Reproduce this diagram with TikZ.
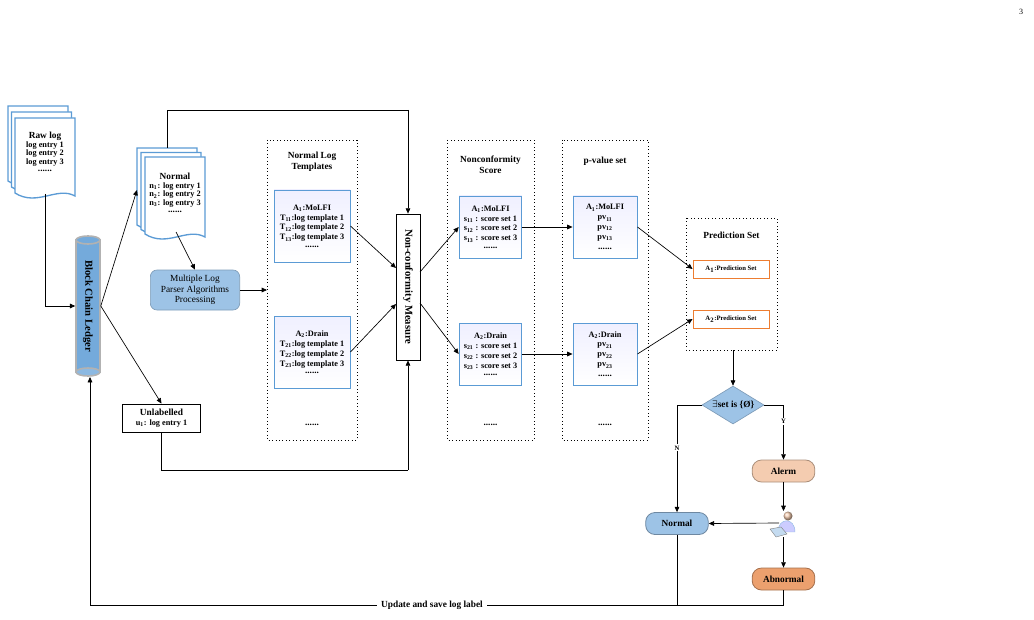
\documentclass[tikz,border=0pt]{standalone}
\usepackage{fontspec}
\setmainfont{Liberation Serif}
\usetikzlibrary{shapes.geometric,arrows.meta}
\definecolor{bblue}{RGB}{91,155,213}
\definecolor{lblue}{RGB}{157,195,230}
\definecolor{peach}{RGB}{244,204,176}
\definecolor{orng}{RGB}{237,125,49}
\definecolor{dorng}{RGB}{236,160,110}
\newcommand{\mydoc}[4]{\path[docst] (#1,#2) -- ++(#3,0) -- ++(0,#4) .. controls +(-18,-10) and +(22,14) .. ++(-#3,-3) -- cycle;}
\newcommand{\sbs}[1]{\textsubscript{#1}}
\newcommand{\dts}{{\fontsize{7}{7}\selectfont\bfseries ......}}
\begin{document}
\begin{tikzpicture}[x=0.75pt,y=-0.75pt,
  every node/.style={font=\fontsize{6.2}{7.4}\selectfont\bfseries},
  docst/.style={draw=bblue,line width=1pt,fill=white},
  arr/.style={-{Triangle[length=4pt,width=3.5pt]},line width=0.5pt},
  ln/.style={line width=0.5pt},
  dbox/.style={draw,dotted,line width=0.6pt},
  tbox/.style={draw=bblue,line width=0.7pt,top color=blue!6,bottom color=white,minimum width=57pt,minimum height=54pt,align=center,inner sep=1pt},
  pbox/.style={draw=orng,line width=0.7pt,fill=white,minimum width=57pt,minimum height=13.5pt,font=\fontsize{5}{6}\selectfont\bfseries},
  term/.style={draw=#1!70!black,rounded corners=7pt,minimum width=47pt,minimum height=16.5pt,line width=0.6pt,font=\fontsize{7}{8}\selectfont\bfseries}]
\useasboundingbox (0,0) rectangle (1034,620);
\node at (1021,12) {\normalfont\fontsize{6}{7}\selectfont 3};
% raw log
\mydoc{8}{106}{60}{78}\mydoc{11.5}{112}{60}{78}\mydoc{15}{118}{60}{78}
\node[align=center,inner sep=0pt] (raw) at (45,152) {{\fontsize{7}{8}\selectfont Raw log}\\[-1pt] log entry 1\\[-1pt] log entry 2\\[-1pt] log entry 3\\[-2pt] \dts};
\coordinate (rawb) at (45,194);
% normal doc
\mydoc{137}{148}{60}{80}\mydoc{141}{152.5}{60}{80}\mydoc{145}{157}{60}{80}
\node[align=center,inner sep=0pt] (normdoc) at (175,193) {{\fontsize{7}{8}\selectfont Normal}\\[-1pt] n\sbs{1}: log entry 1\\[-1pt] n\sbs{2}: log entry 2\\[-1pt] n\sbs{3}: log entry 3\\[-2pt] \dts};
\coordinate (ndl) at (137,190);
\coordinate (ndt) at (167,148);
\coordinate (ndb) at (176,232);
% ledger
\node[draw=gray!60,line width=1.2pt,fill=bblue!85,minimum width=18pt,minimum height=99pt,inner sep=0pt] (ledger) at (88,306) {};
\fill[bblue!85,draw=gray!60,line width=1.2pt] (88,240) ellipse (12 and 4);
\draw[gray!60,line width=1.2pt,fill=bblue!70] (88,372) ellipse (12 and 4);
\node[rotate=-90,font=\fontsize{8}{9}\selectfont\bfseries] at (88,306) {Block Chain Ledger};
\draw[arr] (rawb) |- (ledger.west);
% unlabelled
\node[draw,line width=0.6pt,minimum width=58pt,minimum height=21pt,align=center,inner sep=1pt] (unl) at (161.5,418) {{\fontsize{7}{8}\selectfont Unlabelled}\\ u\sbs{1}: log entry 1};
\draw[arr] (ledger.east) -- (ndl);
\draw[arr] (ledger.east) -- (unl.north);
% MLPAP
\node[draw=lblue!80!black,fill=lblue,rounded corners=5pt,minimum width=67pt,minimum height=30pt,align=center,font=\fontsize{7}{8}\selectfont,line width=0.5pt] (mlp) at (195,290) {Multiple Log\\Parser Algorithms\\Processing};
\draw[arr] (ndb) -- (mlp.north);
% dotted boxes
\draw[dbox] (267,140) rectangle (357,440);
\draw[dbox] (447,140) rectangle (534,440);
\draw[dbox] (562,140) rectangle (648,440);
\draw[dbox] (686,218) rectangle (777,350);
\coordinate (nltl) at (267,290);
\draw[arr] (mlp.east) -- (nltl);
\node[align=center,font=\fontsize{7}{8.5}\selectfont\bfseries] at (312,162) {Normal Log\\Templates};
\node[align=center,font=\fontsize{7}{8.5}\selectfont\bfseries] at (490.5,165) {Nonconformity\\Score};
\node[font=\fontsize{7}{8.5}\selectfont\bfseries] at (605,161) {p-value set};
\node[font=\fontsize{7}{8.5}\selectfont\bfseries] at (731.5,235) {Prediction Set};
\node at (312,425) {\dts};\node at (490.5,425) {\dts};\node at (605,425) {\dts};
% template boxes
\node[tbox] (a1) at (312,226) {A\sbs{1}:MoLFI\\ T\sbs{11}:log template 1\\ T\sbs{12}:log template 2\\ T\sbs{13}:log template 3\\[-2pt] \dts};
\node[tbox] (a2) at (312,352) {A\sbs{2}:Drain\\ T\sbs{21}:log template 1\\ T\sbs{22}:log template 2\\ T\sbs{23}:log template 3\\[-2pt] \dts};
\node[tbox,minimum width=47pt,minimum height=46.5pt] (s1) at (490.5,227) {A\sbs{1}:MoLFI\\ s\sbs{11} : score set 1\\ s\sbs{12} : score set 2\\ s\sbs{13} : score set 3\\[-2pt] \dts};
\node[tbox,minimum width=47pt,minimum height=46.5pt] (s2) at (490.5,354) {A\sbs{2}:Drain\\ s\sbs{21} : score set 1\\ s\sbs{22} : score set 2\\ s\sbs{23} : score set 3\\[-2pt] \dts};
\node[tbox,minimum width=48pt,minimum height=46.5pt] (p1) at (605,227) {A\sbs{1}:MoLFI\\ pv\sbs{11}\\ pv\sbs{12}\\ pv\sbs{13}\\ \dts};
\node[tbox,minimum width=48pt,minimum height=46.5pt] (p2) at (605,354) {A\sbs{2}:Drain\\ pv\sbs{21}\\ pv\sbs{22}\\ pv\sbs{23}\\ \dts};
\node[pbox] (ps1) at (731,269) {A\sbs{1}:Prediction Set};
\node[pbox] (ps2) at (731,319) {A\sbs{2}:Prediction Set};
% NCM
\node[draw,line width=0.6pt,fill=white,minimum width=18pt,minimum height=109.5pt,inner sep=0pt] (ncm) at (408,287) {};
\node[rotate=-90,font=\fontsize{8}{9}\selectfont\bfseries] at (408,287) {Non-conformity Measure};
\draw[ln] (ndt) -- (167,110) -- (408,110);
\draw[arr] (408,110) -- (ncm.north);
\draw[ln] (unl.south) |- (408,470);
\draw[arr] (408,470) -- (ncm.south);
\draw[arr] (a1.east) -- (396,268);
\draw[arr] (a2.east) -- (396,304);
\draw[arr] (420,272) -- (s1.west);
\draw[arr] (420,303) -- (s2.west);
\draw[arr] (s1.east) -- (p1.west);
\draw[arr] (s2.east) -- (p2.west);
\draw[arr] (p1.east) -- (ps1.west);
\draw[arr] (p2.east) -- (ps2.west);
% decision
\node[diamond,draw=lblue!80!black,fill=lblue,line width=0.5pt,minimum width=46.5pt,minimum height=28.5pt,inner sep=0pt,aspect=1.6,font=\fontsize{7}{8}\selectfont\bfseries] (dec) at (733,405) {$\exists$set is \{Ø\}};
\draw[arr] (733,350) -- (dec.north);
\node[term=lblue,fill=lblue] (norm) at (677,523.5) {Normal};
\node[term=peach,fill=peach] (alerm) at (783.5,471) {Alerm};
\node[term=dorng,fill=dorng] (abn) at (783.5,579) {Abnormal};
\draw[arr] (dec.west) -| node[pos=0.7,fill=white,inner sep=1pt,font=\fontsize{5}{6}\selectfont\bfseries]{N} (norm.north);
\draw[arr] (dec.east) -| node[pos=0.65,fill=white,inner sep=1pt,font=\fontsize{5}{6}\selectfont\bfseries]{Y} (alerm.north);
% person
\draw[arr] (alerm.south) -- (783.5,511);
\fill[blue!20,draw=bblue!70,line width=0.3pt] (778,532) .. controls (778,517) and (795,517) .. (795,532) -- cycle;
\shade[ball color=peach] (788,516) circle (4.5);
\fill[lblue!60,draw=gray,line width=0.3pt] (770,529) -- (781,527) -- (787,534) -- (776,537) -- cycle;
\draw[arr] (779,523) -- (norm.east);
\draw[arr] (783.5,537) -- (abn.north);
% update line
\draw[ln] (norm.south) -- (677,605);
\draw[ln] (abn.south) -- (783.5,605) -- (90,605);
\draw[arr] (90,605) -- (90,377);
\node[fill=white,font=\fontsize{7}{8}\selectfont\bfseries] (upd) at (432,605) {Update and save log label};
\end{tikzpicture}
\end{document}
